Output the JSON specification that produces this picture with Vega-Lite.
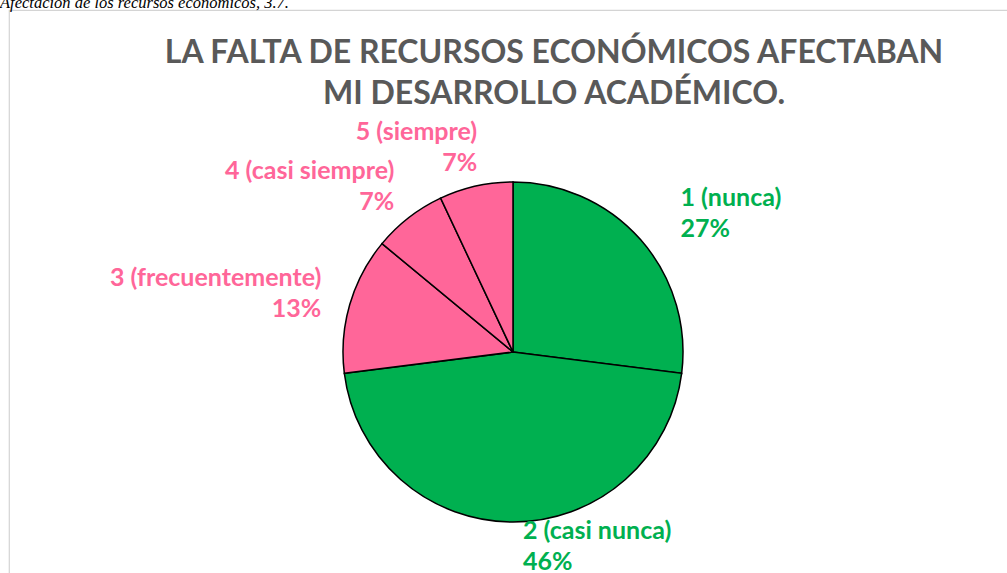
{
  "$schema": "https://vega.github.io/schema/vega-lite/v6.json",
  "autosize": "none",
  "width": 1008,
  "height": 684,
  "padding": {"left": 9, "top": 10, "right": 0, "bottom": 0},
  "background": "white",
  "view": {"stroke": "#d4d4d4", "strokeWidth": 1.2},
  "config": {"view": {"stroke": "#d4d4d4", "strokeWidth": 1.2}},
  "title": {
    "text": "Afectación de los recursos económicos, 3.7.",
    "subtitle": ["LA FALTA DE RECURSOS ECONÓMICOS AFECTABAN", "MI DESARROLLO ACADÉMICO."],
    "anchor": "middle",
    "frame": "group",
    "orient": "top",
    "dx": 41,
    "offset": -100,
    "font": "Liberation Serif",
    "fontStyle": "italic",
    "fontWeight": "normal",
    "fontSize": 16.5,
    "color": "#000000",
    "subtitleFont": "Lato",
    "subtitleFontWeight": "bold",
    "subtitleFontSize": 32,
    "subtitleColor": "#595959",
    "subtitleLineHeight": 41,
    "subtitlePadding": 27,
    "encoding": {"align": {"value": "left"}, "dx": {"value": -513}}
  },
  "data": {
    "values": [
      {"nivel": 1, "respuesta": "1 (nunca)", "proporcion": 0.27, "etiqueta": ["1 (nunca)", "27%"]},
      {"nivel": 2, "respuesta": "2 (casi nunca)", "proporcion": 0.46, "etiqueta": ["2 (casi nunca)", "46%"]},
      {"nivel": 3, "respuesta": "3 (frecuentemente)", "proporcion": 0.13, "etiqueta": ["3 (frecuentemente)", "13%"]},
      {"nivel": 4, "respuesta": "4 (casi siempre)", "proporcion": 0.07, "etiqueta": ["4 (casi siempre)", "7%"]},
      {"nivel": 5, "respuesta": "5 (siempre)", "proporcion": 0.07, "etiqueta": ["5 (siempre)", "7%"]}
    ]
  },
  "encoding": {
    "theta": {"field": "proporcion", "type": "quantitative", "stack": true},
    "order": {"field": "nivel", "type": "quantitative", "sort": "ascending"},
    "color": {
      "field": "respuesta",
      "type": "nominal",
      "scale": {
        "domain": ["1 (nunca)", "2 (casi nunca)", "3 (frecuentemente)", "4 (casi siempre)", "5 (siempre)"],
        "range": ["#00B050", "#00B050", "#FF6699", "#FF6699", "#FF6699"]
      },
      "legend": null
    }
  },
  "layer": [
    {"mark": {"type": "arc", "radius": 170, "stroke": "#000000", "strokeWidth": 1.5}},
    {
      "mark": {
        "type": "text",
        "radius": 210,
        "dx": 10,
        "dy": -15,
        "font": "Lato",
        "fontWeight": "bold",
        "fontSize": 25,
        "lineHeight": 31,
        "baseline": {"expr": "(datum.proporcion_start + datum.proporcion_end) / 2 > 0.3 && (datum.proporcion_start + datum.proporcion_end) / 2 < 0.7 ? 'line-bottom' : 'middle'"},
        "align": {"expr": "(datum.proporcion_start + datum.proporcion_end) / 2 < 0.51 ? 'left' : 'right'"}
      },
      "encoding": {"text": {"field": "etiqueta", "type": "nominal"}}
    }
  ]
}
